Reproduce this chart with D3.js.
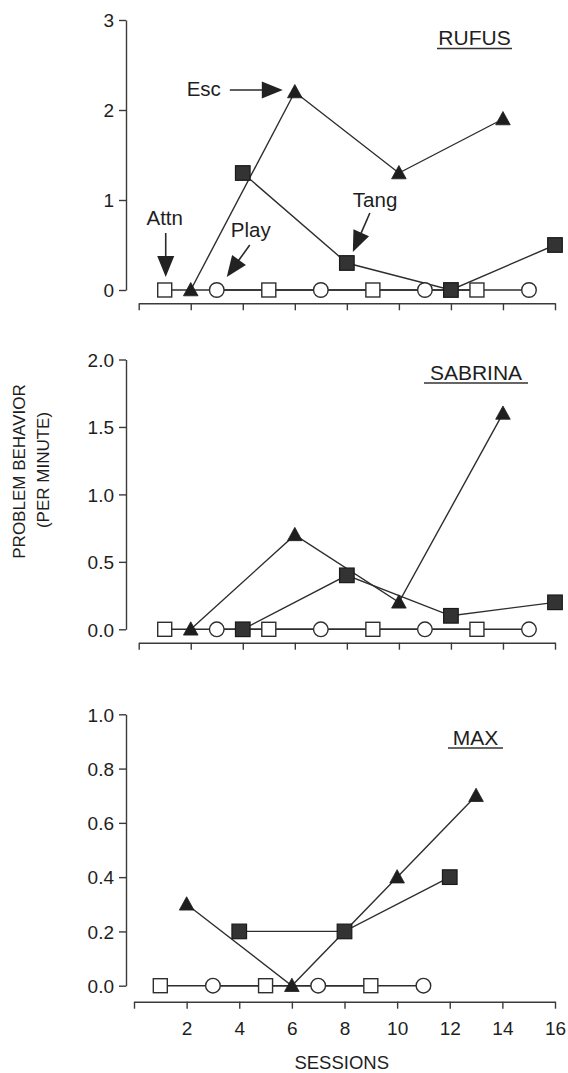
<!DOCTYPE html>
<html>
<head>
<meta charset="utf-8">
<script src="https://cdn.jsdelivr.net/npm/d3@7"></script>
<style>
  html, body { margin: 0; padding: 0; background: #fff; }
  svg { display: block; }
  text { font-family: "Liberation Sans", Arial, Helvetica, sans-serif; fill: #1e1e1e; }
</style>
</head>
<body>
<svg id="chart" width="568" height="1073"></svg>
<script>
// Session numbers for each condition
const attnSessions = [1, 5, 9, 13];
const playSessions = [3, 7, 11, 15];
const escSessions = [2, 6, 10, 14];
const tangSessions = [4, 8, 12, 16];

const maxAttnSessions = [1, 5, 9];
const maxPlaySessions = [3, 7, 11];
const maxEscSessions = [2, 6, 10, 13];
const maxTangSessions = [4, 8, 12];

// Problem behavior per minute
const rufusAttn = [0, 0, 0, 0];
const rufusPlay = [0, 0, 0, 0];
const rufusEsc = [0, 2.2, 1.3, 1.9];
const rufusTang = [1.3, 0.3, 0, 0.5];

const sabrinaAttn = [0, 0, 0, 0];
const sabrinaPlay = [0, 0, 0, 0];
const sabrinaEsc = [0, 0.7, 0.2, 1.6];
const sabrinaTang = [0, 0.4, 0.1, 0.2];

const maxAttn = [0, 0, 0];
const maxPlay = [0, 0, 0];
const maxEsc = [0.3, 0, 0.4, 0.7];
const maxTang = [0.2, 0.2, 0.4];

// Axis ticks
const xTicks = [0, 2, 4, 6, 8, 10, 12, 14, 16];
const rufusTicks = [0, 1, 2, 3];
const sabrinaTicks = [0, 0.5, 1.0, 1.5, 2.0];
const maxTicks = [0, 0.2, 0.4, 0.6, 0.8, 1.0];

const names = ["RUFUS", "SABRINA", "MAX"];

const INK = "#2e2e2e";
const svg = d3.select("#chart");

const zip = (s, v) => s.map((d, i) => ({ s: d, v: v[i] }));

const panels = [
  {
    name: names[0], yMax: 3, ticks: rufusTicks, fmt: d3.format("d"),
    yRange: [290, 20], xRange: [138.7, 555], axisY: 303.3, showLabels: false,
    title: { x: 474.5, y: 45, u0: 437, u1: 512 },
    attn: zip(attnSessions, rufusAttn), play: zip(playSessions, rufusPlay),
    esc: zip(escSessions, rufusEsc), tang: zip(tangSessions, rufusTang)
  },
  {
    name: names[1], yMax: 2, ticks: sabrinaTicks, fmt: d3.format(".1f"),
    yRange: [629.3, 359.5], xRange: [138.7, 555], axisY: 642.7, showLabels: false,
    title: { x: 476, y: 379.5, u0: 424, u1: 528 },
    attn: zip(attnSessions, sabrinaAttn), play: zip(playSessions, sabrinaPlay),
    esc: zip(escSessions, sabrinaEsc), tang: zip(tangSessions, sabrinaTang)
  },
  {
    name: names[2], yMax: 1, ticks: maxTicks, fmt: d3.format(".1f"),
    yRange: [985.7, 714.3], xRange: [134, 555], axisY: 1001.7, showLabels: true,
    title: { x: 475.5, y: 744.5, u0: 448, u1: 503 },
    attn: zip(maxAttnSessions, maxAttn), play: zip(maxPlaySessions, maxPlay),
    esc: zip(maxEscSessions, maxEsc), tang: zip(maxTangSessions, maxTang)
  }
];

const AXIS_X = 126;

function styleAxis(g) {
  g.selectAll("path.domain").attr("stroke", "#3a3a3a").attr("stroke-width", 1.4);
  g.selectAll(".tick line").attr("stroke", "#3a3a3a").attr("stroke-width", 1.4);
  g.selectAll(".tick text")
    .attr("font-family", "'Liberation Sans', Arial, sans-serif")
    .attr("font-size", 19).attr("fill", "#1e1e1e");
}

const scales = [];

panels.forEach(p => {
  const x = d3.scaleLinear().domain([0, 16]).range(p.xRange);
  const y = d3.scaleLinear().domain([0, p.yMax]).range(p.yRange);
  scales.push({ x, y });
  const g = svg.append("g");

  // y axis
  const ya = g.append("g").attr("transform", `translate(${AXIS_X},0)`)
    .call(d3.axisLeft(y).tickValues(p.ticks).tickFormat(p.fmt)
      .tickSize(7).tickSizeOuter(0).tickPadding(5));
  styleAxis(ya);
  ya.selectAll(".tick text").attr("dy", "0.36em");

  // x axis
  const xa = g.append("g").attr("transform", `translate(0,${p.axisY})`)
    .call(d3.axisBottom(x).tickValues(xTicks)
      .tickFormat(d => (p.showLabels && d > 0) ? d : "")
      .tickSize(7).tickSizeOuter(0).tickPadding(13));
  styleAxis(xa);

  const line = d3.line().x(d => x(d.s)).y(d => y(d.v));

  // connecting lines
  [p.attn, p.play, p.esc, p.tang].forEach(series => {
    g.append("path").datum(series)
      .attr("d", line)
      .attr("fill", "none")
      .attr("stroke", INK)
      .attr("stroke-width", 1.4);
  });

  // markers: open squares (Attn)
  g.selectAll(null).data(p.attn).join("rect")
    .attr("x", d => x(d.s) - 7).attr("y", d => y(d.v) - 7)
    .attr("width", 14).attr("height", 14)
    .attr("fill", "#fff").attr("stroke", INK).attr("stroke-width", 1.4);

  // open circles (Play)
  g.selectAll(null).data(p.play).join("circle")
    .attr("cx", d => x(d.s)).attr("cy", d => y(d.v)).attr("r", 7.3)
    .attr("fill", "#fff").attr("stroke", INK).attr("stroke-width", 1.4);

  // filled triangles (Esc)
  g.selectAll(null).data(p.esc).join("path")
    .attr("d", d => {
      const cx = x(d.s), cy = y(d.v);
      return `M${cx},${cy - 7.5}L${cx + 7.3},${cy + 5.8}L${cx - 7.3},${cy + 5.8}Z`;
    })
    .attr("fill", "#1e1e1e").attr("stroke", "#1e1e1e").attr("stroke-width", 0.8)
    .attr("stroke-linejoin", "miter");

  // filled squares (Tang)
  g.selectAll(null).data(p.tang).join("rect")
    .attr("x", d => x(d.s) - 7.3).attr("y", d => y(d.v) - 7.3)
    .attr("width", 14.6).attr("height", 14.6)
    .attr("fill", "#333").attr("stroke", "#1a1a1a").attr("stroke-width", 1.2);

  // participant name, underlined
  g.append("text")
    .attr("x", p.title.x).attr("y", p.title.y)
    .attr("text-anchor", "middle").attr("font-size", 21)
    .text(p.name);
  g.append("line")
    .attr("x1", p.title.u0).attr("x2", p.title.u1)
    .attr("y1", p.title.y + 3.5).attr("y2", p.title.y + 3.5)
    .attr("stroke", "#333").attr("stroke-width", 1.6);
});

// condition callouts in the first panel
const { x: rx, y: ry } = scales[0];

function arrow(x1, y1, x2, y2) {
  const len = Math.hypot(x2 - x1, y2 - y1);
  const ux = (x2 - x1) / len, uy = (y2 - y1) / len;
  const headL = 21, headW = 8.5;
  const bx = x2 - ux * headL, by = y2 - uy * headL;
  svg.append("line")
    .attr("x1", x1).attr("y1", y1).attr("x2", bx + ux * 2).attr("y2", by + uy * 2)
    .attr("stroke", "#2a2a2a").attr("stroke-width", 1.6);
  svg.append("path")
    .attr("d", `M${x2},${y2}L${bx - uy * headW},${by + ux * headW}L${bx + uy * headW},${by - ux * headW}Z`)
    .attr("fill", "#222");
}

function callout(label, tx, ty, anchor) {
  svg.append("text").attr("x", tx).attr("y", ty)
    .attr("text-anchor", anchor).attr("font-size", 20.5).text(label);
}

// Esc
callout("Esc", rx(6) - 74, ry(2.2) + 4, "end");
arrow(rx(6) - 65, ry(2.2) - 2, rx(6) - 12, ry(2.2) - 2);
// Attn
callout("Attn", rx(1), ry(0) - 65, "middle");
arrow(rx(1) + 1, ry(0) - 57, rx(1) + 1, ry(0) - 13);
// Play
callout("Play", rx(3) + 14, ry(0) - 53, "start");
arrow(rx(3) + 33, ry(0) - 45, rx(3) + 10, ry(0) - 13);
// Tang
callout("Tang", rx(8) + 6, ry(0.3) - 56, "start");
arrow(rx(8) + 23, ry(0.3) - 50, rx(8) + 6, ry(0.3) - 11);

// shared axis titles
svg.append("text")
  .attr("transform", "translate(25,471.5) rotate(-90)")
  .attr("text-anchor", "middle").attr("font-size", 17)
  .text("PROBLEM BEHAVIOR");
svg.append("text")
  .attr("transform", "translate(49,470) rotate(-90)")
  .attr("text-anchor", "middle").attr("font-size", 17)
  .text("(PER MINUTE)");
svg.append("text")
  .attr("x", 341.7).attr("y", 1068.5)
  .attr("text-anchor", "middle").attr("font-size", 18.5)
  .text("SESSIONS");
</script>
</body>
</html>
